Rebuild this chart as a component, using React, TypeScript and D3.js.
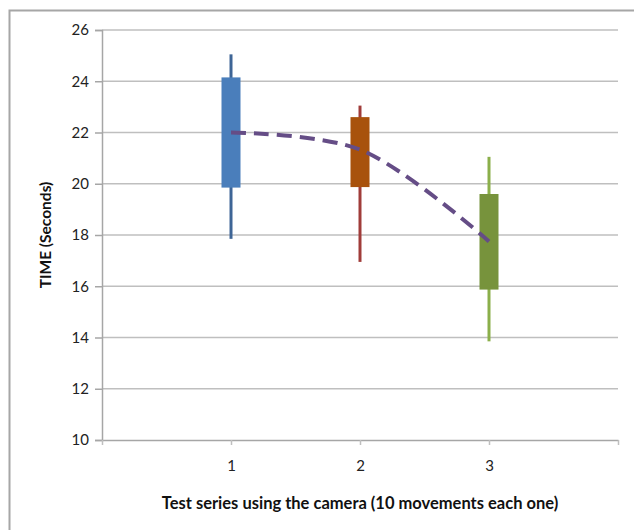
import React, { useEffect, useRef } from 'react';
import * as d3 from 'd3';

const categories = [1, 2, 3];
const lows = [17.85, 16.95, 13.85];
const boxBottoms = [19.85, 19.87, 15.87];
const boxTops = [24.15, 22.6, 19.6];
const highs = [25.05, 23.05, 21.05];
const means = [22.0, 21.33, 17.75];
const yTicks = [10, 12, 14, 16, 18, 20, 22, 24, 26];

const boxColors = ['#4A7EBB', '#A8520C', '#77933C'];
const whiskerColors = ['#3E6596', '#A03C3A', '#8BAF4A'];

const App: React.FC = () => {
  const ref = useRef<SVGSVGElement | null>(null);

  useEffect(() => {
    const svg = d3.select(ref.current);
    svg.selectAll('*').remove();

    const left = 102;
    const right = 618;
    const top = 30;
    const bottom = 440;
    const font = 'Lato, "Noto Sans", sans-serif';

    const x = d3.scaleLinear().domain([0, 4]).range([left, right]);
    const y = d3.scaleLinear().domain([10, 26]).range([bottom, top]);

    // outer frame
    svg
      .append('path')
      .attr('d', 'M9.5,540 V10.5 H640')
      .attr('fill', 'none')
      .attr('stroke', '#A6A6A6')
      .attr('stroke-width', 2);

    // gridlines
    svg
      .append('g')
      .selectAll('line')
      .data(yTicks.filter((t) => t > 10))
      .enter()
      .append('line')
      .attr('x1', left)
      .attr('x2', right)
      .attr('y1', (d) => y(d))
      .attr('y2', (d) => y(d))
      .attr('stroke', '#BFBFBF')
      .attr('stroke-width', 1.5);

    // y axis
    const yAxis = svg
      .append('g')
      .attr('transform', `translate(${left},0)`)
      .call(d3.axisLeft(y).tickValues(yTicks).tickSize(7).tickPadding(6));
    yAxis.select('.domain').attr('stroke', '#A6A6A6').attr('stroke-width', 1.5);
    yAxis.selectAll('.tick line').attr('stroke', '#A6A6A6').attr('stroke-width', 1.5);
    yAxis
      .selectAll('.tick text')
      .attr('font-family', font)
      .attr('font-size', 15)
      .attr('fill', '#222');

    // x axis
    const xAxis = svg
      .append('g')
      .attr('transform', `translate(0,${bottom})`)
      .call(
        d3
          .axisBottom(x)
          .tickValues([0, 1, 2, 3, 4])
          .tickSize(5)
          .tickPadding(15)
          .tickFormat((d) => (categories.includes(d as number) ? String(d) : ''))
          .tickSizeOuter(0)
      );
    xAxis.select('.domain').attr('stroke', '#A6A6A6').attr('stroke-width', 1.5);
    xAxis.selectAll('.tick line').attr('stroke', '#BFBFBF').attr('stroke-width', 1.5);
    xAxis
      .selectAll('.tick text')
      .attr('font-family', font)
      .attr('font-size', 15)
      .attr('fill', '#222');

    // whiskers
    svg
      .append('g')
      .selectAll('line')
      .data(categories)
      .enter()
      .append('line')
      .attr('x1', (d) => x(d))
      .attr('x2', (d) => x(d))
      .attr('y1', (_, i) => y(highs[i]))
      .attr('y2', (_, i) => y(lows[i]))
      .attr('stroke', (_, i) => whiskerColors[i])
      .attr('stroke-width', 3);

    // boxes
    const boxW = 19;
    svg
      .append('g')
      .selectAll('rect')
      .data(categories)
      .enter()
      .append('rect')
      .attr('x', (d) => x(d) - boxW / 2)
      .attr('width', boxW)
      .attr('y', (_, i) => y(boxTops[i]))
      .attr('height', (_, i) => y(boxBottoms[i]) - y(boxTops[i]))
      .attr('fill', (_, i) => boxColors[i]);

    // mean line
    const line = d3
      .line<number>()
      .x((d, i) => x(categories[i]))
      .y((d) => y(d))
      .curve(d3.curveCatmullRom.alpha(0.5));
    svg
      .append('path')
      .datum(means)
      .attr('d', line)
      .attr('fill', 'none')
      .attr('stroke', '#654D86')
      .attr('stroke-width', 4)
      .attr('stroke-dasharray', '15,8');

    // axis titles
    svg
      .append('text')
      .attr('transform', `translate(51,${(top + bottom) / 2}) rotate(-90)`)
      .attr('text-anchor', 'middle')
      .attr('font-family', font)
      .attr('font-weight', 'bold')
      .attr('font-size', 15.5)
      .attr('fill', '#111')
      .text('TIME (Seconds)');

    svg
      .append('text')
      .attr('x', 360)
      .attr('y', 509)
      .attr('text-anchor', 'middle')
      .attr('font-family', font)
      .attr('font-weight', 'bold')
      .attr('font-size', 16.5)
      .attr('fill', '#111')
      .text('Test series using the camera (10 movements each one)');
  }, []);

  return (
    <svg
      ref={ref}
      width={634}
      height={530}
      style={{ position: 'absolute', left: 0, top: 0, background: '#fff' }}
    ></svg>
  );
};

export default App;
